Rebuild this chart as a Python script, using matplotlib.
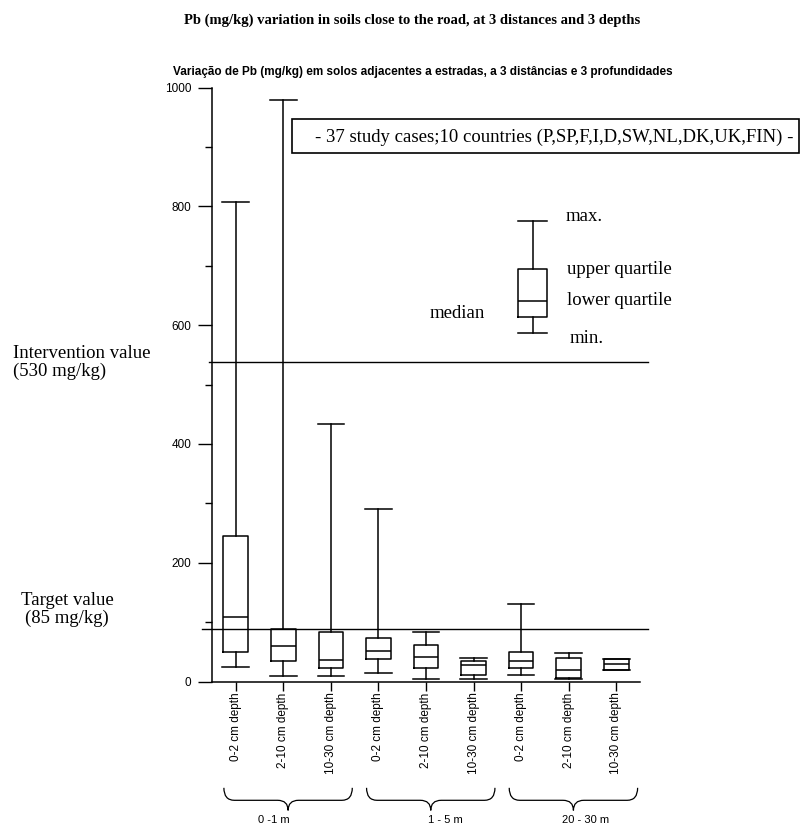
import numpy as np
import matplotlib
matplotlib.use("Agg")
import matplotlib.pyplot as plt
import matplotlib.transforms as mtransforms
from matplotlib.path import Path
from matplotlib.patches import PathPatch, Rectangle

# depth classes at each distance from the road
depth_labels = ["0-2 cm depth", "2-10 cm depth", "10-30 cm depth"] * 3
distance_groups = ["0 -1 m", "1 - 5 m", "20 - 30 m"]

# Pb (mg/kg) box statistics
pb_min = [24, 9, 9, 15, 4, 4, 11, 5, 20]
pb_q1 = [50, 35, 23, 38, 23, 11, 23, 6, 20]
pb_med = [108, 59, 37, 52, 41, 28, 34, 20, 29]
pb_q3 = [245, 88, 83, 74, 61, 34, 50, 39, 38]
pb_max = [807, 979, 434, 290, 84, 40, 130, 48, 38]

intervention = 538   # drawn line, labelled 530 mg/kg
target = 88          # drawn line, labelled 85 mg/kg

# key glyph (min, lower quartile, median, upper quartile, max)
key_stats = [587, 614, 641, 694, 775]

plt.rcParams['font.family'] = ['Liberation Sans', 'DejaVu Sans']
serif = ['Liberation Serif', 'DejaVu Serif']

fig = plt.figure(figsize=(8.01, 8.26), dpi=100)
ax = fig.add_axes([212/801, 1-681.5/826, 428/801, 594/826])

pos = np.arange(1, 10)
stats = []
for i in range(9):
    stats.append(dict(whislo=pb_min[i], q1=pb_q1[i], med=pb_med[i],
                      q3=pb_q3[i], whishi=pb_max[i], fliers=[]))
lp = dict(color='k', lw=1.1)
ax.bxp(stats, positions=pos, widths=0.52, capwidths=0.56, showfliers=False,
       boxprops=lp, whiskerprops=lp, capprops=lp, medianprops=lp)

# key box
k = key_stats
ax.bxp([dict(whislo=k[0], q1=k[1], med=k[2], q3=k[3], whishi=k[4], fliers=[])],
       positions=[7.24], widths=0.59, capwidths=0.59, showfliers=False,
       boxprops=lp, whiskerprops=lp, capprops=lp, medianprops=lp, manage_ticks=False)
tf = dict(family=serif, fontsize=13.5, va='center')
ax.text(7.94, k[4] + 8, "max.", **tf)
ax.text(7.96, k[3], "upper quartile", **tf)
ax.text(7.96, k[2], "lower quartile", **tf)
ax.text(8.02, k[0] - 9, "min.", **tf)
ax.text(6.24, k[1] + 6, "median", ha='right', family=serif, fontsize=13.5, va='center')

# reference lines
ax.plot([0.44, 9.66], [intervention, intervention], color='k', lw=1, clip_on=False)
ax.plot([0.29, 9.66], [target, target], color='k', lw=1, clip_on=False)

ax.set_xlim(0.5, 9.5)
ax.set_ylim(0, 1000)
ax.spines['top'].set_visible(False)
ax.spines['right'].set_visible(False)
ax.spines['left'].set_linewidth(1.1)
ax.spines['bottom'].set_linewidth(1.1)

ax.set_yticks(range(0, 1001, 200))
ax.set_yticks([100, 300, 500, 700, 900], minor=True)
ax.tick_params(axis='y', which='major', length=10, width=1, pad=5, labelsize=8.5)
ax.tick_params(axis='y', which='minor', length=5, width=1)
ax.set_xticks(pos)
ax.set_xticklabels(depth_labels, rotation=90)
ax.tick_params(axis='x', length=6.5, width=1, pad=1.5, labelsize=8.5)

# braces under each distance group
trans = mtransforms.blended_transform_factory(ax.transData, ax.transAxes)
yt, ym, yb = -0.179, -0.200, -0.217
r = 0.22
label_shift = [-0.3, 0.3, 0.25]
for g in range(3):
    xa = pos[3*g] - 0.25
    xb = pos[3*g + 2] + 0.45
    xm = (xa + xb) / 2
    verts = [(xa, yt), (xa, ym), (xa + r, ym), (xm - r, ym), (xm, ym), (xm, yb),
             (xm, ym), (xm + r, ym), (xb - r, ym), (xb, ym), (xb, yt)]
    codes = [Path.MOVETO, Path.CURVE3, Path.CURVE3, Path.LINETO, Path.CURVE3, Path.CURVE3,
             Path.CURVE3, Path.CURVE3, Path.LINETO, Path.CURVE3, Path.CURVE3]
    ax.add_patch(PathPatch(Path(verts, codes), transform=trans, fill=False,
                           lw=0.9, color='k', clip_on=False))
    ax.text(xm + label_shift[g], -0.234, distance_groups[g], transform=trans,
            ha='center', va='center', fontsize=8)

# texts outside the axes
fig.text(0.515, 0.976, "Pb (mg/kg) variation in soils close to the road, at 3 distances and 3 depths",
         ha='center', va='center', family=serif, fontweight='bold', fontsize=10.5)
fig.text(0.528, 0.913, "Variação de Pb (mg/kg) em solos adjacentes a estradas, a 3 distâncias e 3 profundidades",
         ha='center', va='center', family=['Liberation Sans Narrow', 'Liberation Sans'],
         fontweight='bold', fontsize=8.5)
fig.text(13/801, 1-362.5/826, "Intervention value\n(530 mg/kg)", ha='left', va='center',
         family=serif, fontsize=13.5, linespacing=1.05)
fig.text(67/801, 1-609.5/826, "Target value\n(85 mg/kg)", ha='center', va='center',
         family=serif, fontsize=13.5, linespacing=1.05, multialignment='center')

fig.patches.append(Rectangle((292/801, 1-153/826), 507/801, 34/826, transform=fig.transFigure,
                             fill=False, lw=1.2, edgecolor='k'))
fig.text(315/801, 1-137/826, "- 37 study cases;10 countries (P,SP,F,I,D,SW,NL,DK,UK,FIN) -",
         ha='left', va='center', family=serif, fontsize=13.5)

fig.savefig("out.png", dpi=100)
